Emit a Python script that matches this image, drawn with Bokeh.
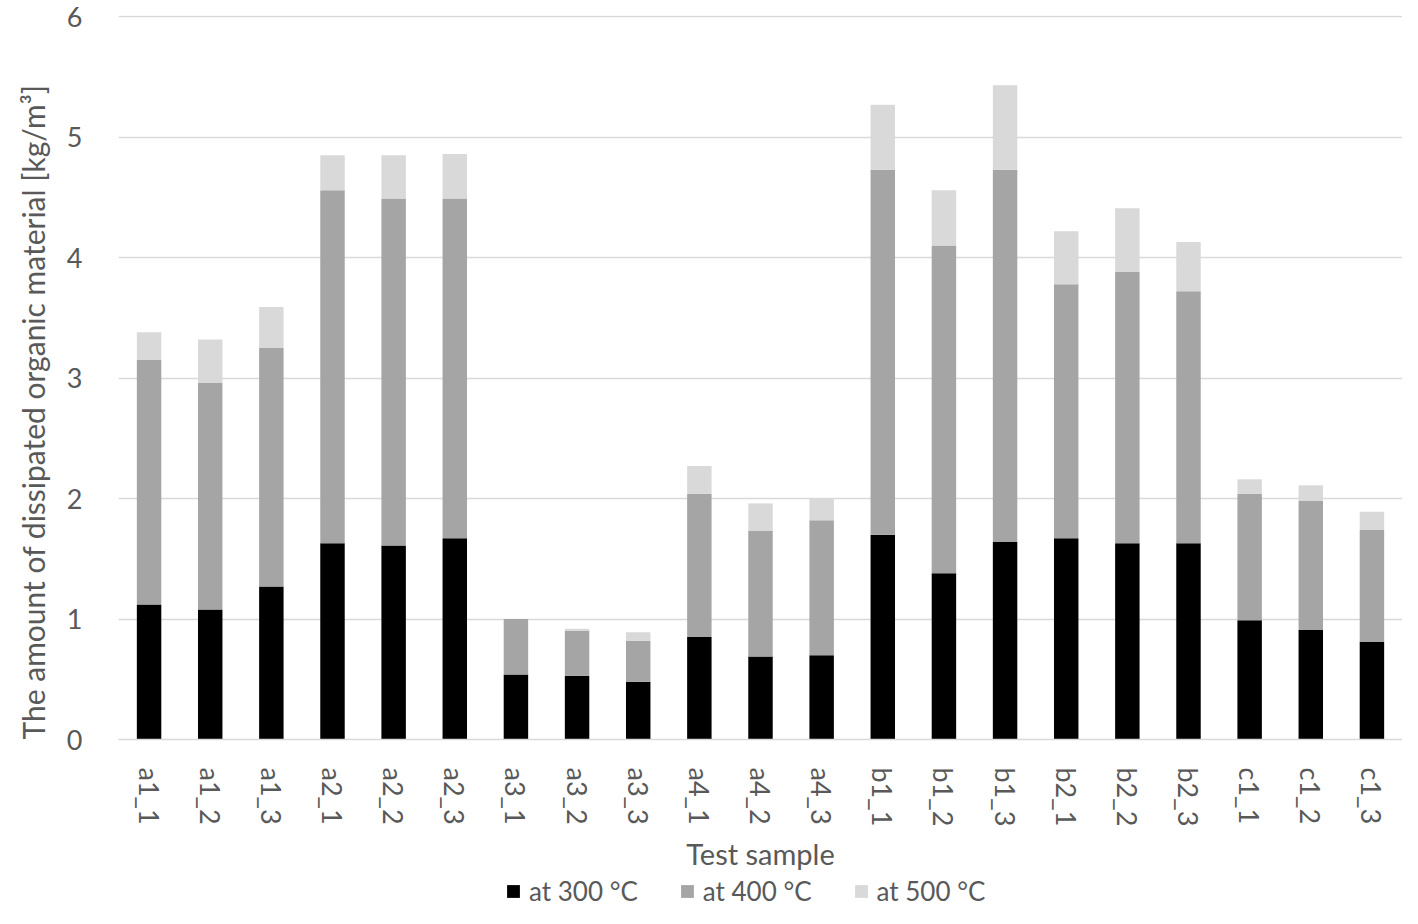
from bokeh.plotting import figure
from bokeh.layouts import column
from bokeh.models import ColumnDataSource, FixedTicker, Legend, LegendItem, Range1d, Title
from bokeh.embed import file_html
from bokeh.resources import INLINE

samples = ["a1_1", "a1_2", "a1_3", "a2_1", "a2_2", "a2_3", "a3_1", "a3_2", "a3_3",
           "a4_1", "a4_2", "a4_3", "b1_1", "b1_2", "b1_3", "b2_1", "b2_2", "b2_3",
           "c1_1", "c1_2", "c1_3"]
# cumulative tops
top300 = [1.12, 1.08, 1.27, 1.63, 1.61, 1.67, 0.54, 0.53, 0.48, 0.85, 0.69, 0.70,
          1.70, 1.38, 1.64, 1.67, 1.63, 1.63, 0.99, 0.91, 0.81]
top400 = [3.15, 2.96, 3.25, 4.56, 4.49, 4.49, 1.00, 0.90, 0.82, 2.04, 1.73, 1.82,
          4.73, 4.10, 4.73, 3.78, 3.88, 3.72, 2.04, 1.98, 1.74]
top500 = [3.38, 3.32, 3.59, 4.85, 4.85, 4.86, 1.00, 0.92, 0.89, 2.27, 1.96, 2.00,
          5.27, 4.56, 5.43, 4.22, 4.41, 4.13, 2.16, 2.11, 1.89]

at300 = top300
at400 = [round(b - a, 3) for a, b in zip(top300, top400)]
at500 = [round(c - b, 3) for b, c in zip(top400, top500)]

series = ["at 300 °C", "at 400 °C", "at 500 °C"]
colors = ["#000000", "#a5a5a5", "#d9d9d9"]
yticks = [0, 1, 2, 3, 4, 5, 6]

FONT = "Lato"
TXT = "#595959"

source = ColumnDataSource(dict(sample=samples, s300=at300, s400=at400, s500=at500))

p = figure(x_range=samples, y_range=Range1d(0, 6.01), width=1402, height=874,
           output_backend="svg", toolbar_location=None,
           min_border_left=115, min_border_right=0, min_border_top=15,
           min_border_bottom=0)
p.outline_line_color = None

rs = p.vbar_stack(["s300", "s400", "s500"], x="sample", width=0.4, color=colors,
                  source=source, line_color=None)

p.xgrid.grid_line_color = None
p.ygrid.grid_line_color = "#d9d9d9"
p.ygrid.grid_line_width = 1.5

xa = p.xaxis[0]
xa.axis_line_color = "#d9d9d9"
xa.axis_line_width = 1.5
xa.major_tick_line_color = None
xa.minor_tick_line_color = None
xa.major_label_orientation = "vertical"
xa.major_label_text_font = FONT
xa.major_label_text_font_size = "27px"
xa.major_label_text_color = TXT
xa.major_label_standoff = 22
xa.axis_label = "Test sample"
xa.axis_label_text_font = FONT
xa.axis_label_text_font_size = "29px"
xa.axis_label_text_font_style = "normal"
xa.axis_label_text_color = TXT
xa.axis_label_standoff = 7

ya = p.yaxis[0]
ya.ticker = FixedTicker(ticks=yticks)
ya.axis_line_color = None
ya.major_tick_line_color = None
ya.minor_tick_line_color = None
ya.major_label_text_font = FONT
ya.major_label_text_font_size = "27px"
ya.major_label_text_color = TXT
ya.major_label_standoff = 30

ytitle = Title(text="The amount of dissipated organic material [kg/m³]",
               align="left", standoff=25,
               text_font=FONT, text_font_size="30px", text_font_style="normal",
               text_color=TXT)
p.add_layout(ytitle, "left")

# legend strip below the chart (bars drawn outside its visible range)
pl = figure(x_range=samples, y_range=Range1d(100, 101), width=1402, height=34,
            output_backend="svg", toolbar_location=None, min_border=0)
pl.axis.visible = False
pl.grid.visible = False
pl.outline_line_color = None
lrs = pl.vbar_stack(["s300", "s400", "s500"], x="sample", width=0.4, color=colors,
                    source=source, line_color=None)

legend = Legend(items=[LegendItem(label=s, renderers=[r]) for s, r in zip(series, lrs)],
                orientation="horizontal", location=(387, 1))
legend.border_line_color = None
legend.background_fill_alpha = 0
legend.label_text_font = FONT
legend.label_text_font_size = "26px"
legend.label_text_color = TXT
legend.glyph_width = 16
legend.glyph_height = 16
legend.label_standoff = 8
legend.spacing = 41
legend.padding = 0
legend.margin = 0
pl.add_layout(legend, "center")

open("out.html", "w").write(file_html(column(p, pl, spacing=0), INLINE))
